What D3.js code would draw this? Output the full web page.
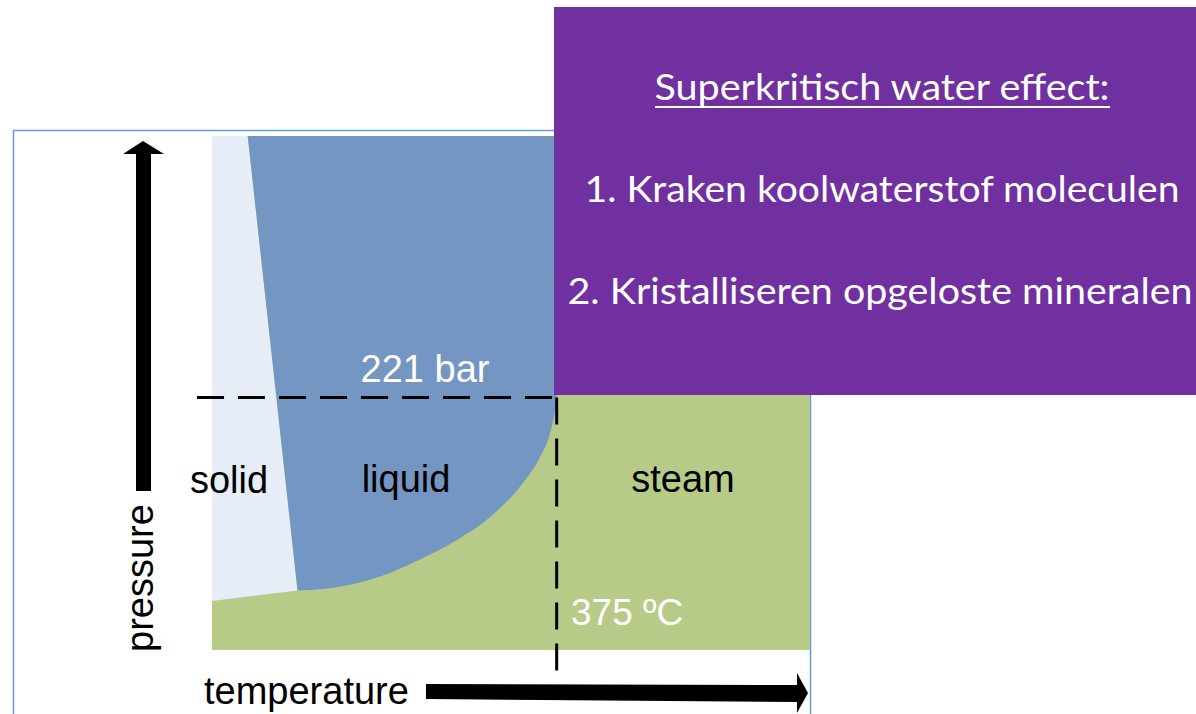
<!DOCTYPE html>
<html>
<head>
<meta charset="utf-8">
<script src="https://cdn.jsdelivr.net/npm/d3@7"></script>
<style>
  html, body { margin: 0; padding: 0; background: #fff; }
  svg { display: block; }
</style>
</head>
<body>
<svg id="chart" width="1196" height="714"></svg>
<script>
// ---- Data (temperature in °C, pressure in bar; schematic phase diagram of water) ----
const tempDomain = [-40, 680];
const presDomain = [0, 450];
const criticalPoint = { t: 375, p: 221 };
const triplePoint = { t: 63, p: 52 };
// solid–liquid (melting) line, from top edge down to the triple point
const meltingLine = [ { t: 3, p: 450 }, { t: 63, p: 52 } ];
// solid–gas (sublimation) line, from left edge to the triple point
const sublimationLine = [ { t: -40, p: 43 }, { t: 63, p: 52 } ];
// liquid–gas (vaporisation) curve, from triple point to the critical point
const vaporCurve = [
  { t: 63, p: 52 }, { t: 94, p: 53.4 }, { t: 135, p: 58.7 }, { t: 174, p: 67.5 },
  { t: 214, p: 80.5 }, { t: 255, p: 96.3 }, { t: 295, p: 116.4 }, { t: 334, p: 146 },
  { t: 355, p: 169 }, { t: 367, p: 190 }, { t: 373, p: 210 }, { t: 375, p: 221 }
];
const dashExtentT = -58;   // where the 221 bar guide starts
const dashExtentP = -20;   // where the 375 °C guide ends
const phaseLabels = ["solid", "liquid", "steam"];
const criticalLabels = ["221 bar", "375 ºC"];
const axisLabels = ["temperature", "pressure"];
const boxTitle = "Superkritisch water effect:";
const boxItems = ["1. Kraken koolwaterstof moleculen", "2. Kristalliseren opgeloste mineralen"];

// ---- Colours ----
const C = {
  solid: "#e6edf7", liquid: "#7496c2", gas: "#b7cb89",
  frame: "#6b9bd6", purple: "#7030a0"
};

const svg = d3.select("#chart");
const x = d3.scaleLinear().domain(tempDomain).range([212, 810]);
const y = d3.scaleLinear().domain(presDomain).range([650, 136]);

// outer frame (blue thin border)
svg.append("rect").attr("x", 13.5).attr("y", 130.5).attr("width", 797).attr("height", 600)
  .attr("fill", "#fff").attr("stroke", C.frame).attr("stroke-width", 1.5);

// gas region (background of plot area)
svg.append("rect")
  .attr("x", x(tempDomain[0])).attr("y", y(presDomain[1]))
  .attr("width", x(tempDomain[1]) - x(tempDomain[0]))
  .attr("height", y(presDomain[0]) - y(presDomain[1]))
  .attr("fill", C.gas);

// solid region
const solidPts = [
  [tempDomain[0], presDomain[1]],
  [meltingLine[0].t, meltingLine[0].p],
  [triplePoint.t, triplePoint.p],
  [sublimationLine[0].t, sublimationLine[0].p]
];
svg.append("path")
  .attr("d", d3.line().x(d => x(d[0])).y(d => y(d[1]))(solidPts) + "Z")
  .attr("fill", C.solid);

// liquid region
const vapPath = d3.line().x(d => x(d.t)).y(d => y(d.p)).curve(d3.curveMonotoneX);
const vapRev = vaporCurve.slice().reverse();
const liquidD = "M" + x(meltingLine[0].t) + "," + y(presDomain[1]) +
  "L" + x(criticalPoint.t) + "," + y(presDomain[1]) +
  "L" + x(criticalPoint.t) + "," + y(criticalPoint.p) +
  vapPath(vapRev).replace(/^M[^LC]*/, "") +
  "Z";
svg.append("path").attr("d", liquidD).attr("fill", C.liquid);

// dashed guide lines at the critical point
svg.append("line")
  .attr("x1", x(dashExtentT)).attr("x2", x(criticalPoint.t))
  .attr("y1", y(criticalPoint.p)).attr("y2", y(criticalPoint.p))
  .attr("stroke", "#000").attr("stroke-width", 3).attr("stroke-dasharray", "27,14");
svg.append("line")
  .attr("x1", x(criticalPoint.t)).attr("x2", x(criticalPoint.t))
  .attr("y1", y(criticalPoint.p)).attr("y2", y(dashExtentP))
  .attr("stroke", "#000").attr("stroke-width", 3).attr("stroke-dasharray", "27,14");

// labels
const arial = "'Liberation Sans', Arial, sans-serif";
const lab = (txt, xx, yy, fill, anchor, size) =>
  svg.append("text").attr("x", xx).attr("y", yy).text(txt)
    .attr("fill", fill).attr("text-anchor", anchor || "middle")
    .attr("font-family", arial).attr("font-size", size || 38);

lab(phaseLabels[0], 229, 493, "#000");
lab(phaseLabels[1], 406, 492, "#000");
lab(phaseLabels[2], 683, 492, "#000");
lab(criticalLabels[0], 425, 382, "#fff");
lab(criticalLabels[1], 571, 625, "#fff", "start", 37);
lab(axisLabels[0], 204, 704, "#000", "start");
svg.append("text").text(axisLabels[1])
  .attr("transform", "translate(153,652) rotate(-90)")
  .attr("font-family", arial).attr("font-size", 38).attr("fill", "#000");

// arrows
svg.append("path")
  .attr("d", "M136,491 L136,154 L123,154 L143,141 L164,154 L151,154 L151,491 Z")
  .attr("fill", "#000");
svg.append("path")
  .attr("d", "M426,684 L797,685 L797,673 L808,693 L797,713 L797,702 L426,699 Z")
  .attr("fill", "#000");

// purple info box
svg.append("rect").attr("x", 554).attr("y", 7).attr("width", 660).attr("height", 388)
  .attr("fill", C.purple);

const boxFont = "Lato, 'Open Sans', sans-serif";
const boxText = (txt, cx, yy, width) => {
  const t = svg.append("text").attr("x", cx).attr("y", yy).text(txt)
    .attr("fill", "#fff").attr("text-anchor", "middle")
    .attr("font-family", boxFont).attr("font-size", 37);
  t.attr("textLength", width).attr("lengthAdjust", "spacingAndGlyphs");
  return t;
};
boxText(boxTitle, 882, 100, 455);
svg.append("rect").attr("x", 655).attr("y", 106).attr("width", 455).attr("height", 2).attr("fill", "#fff");
boxText(boxItems[0], 882, 202, 595);
boxText(boxItems[1], 880, 304, 625);
</script>
</body>
</html>
